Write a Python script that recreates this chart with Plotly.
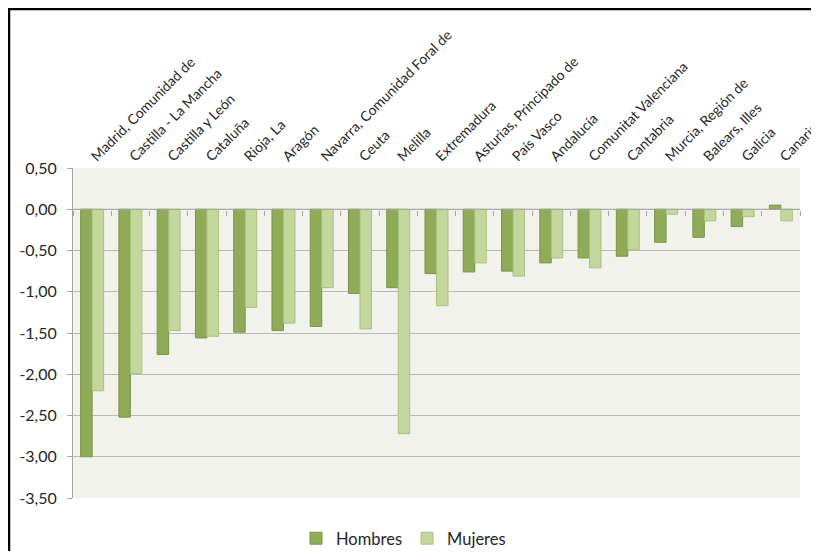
import plotly.graph_objects as go

regiones = ['Madrid, Comunidad de', 'Castilla - La Mancha', 'Castilla y León', 'Cataluña',
            'Rioja, La', 'Aragón', 'Navarra, Comunidad Foral de', 'Ceuta', 'Melilla',
            'Extremadura', 'Asturias, Principado de', 'País Vasco', 'Andalucía',
            'Comunitat Valenciana', 'Cantabria', 'Murcia, Región de', 'Balears, Illes',
            'Galicia', 'Canarias']
hombres = [-3.00, -2.52, -1.76, -1.56, -1.49, -1.47, -1.42, -1.02, -0.95,
           -0.78, -0.76, -0.75, -0.65, -0.59, -0.57, -0.40, -0.34, -0.21, 0.05]
mujeres = [-2.20, -1.99, -1.47, -1.54, -1.19, -1.38, -0.95, -1.45, -2.72,
           -1.17, -0.65, -0.81, -0.59, -0.71, -0.49, -0.06, -0.14, -0.09, -0.14]
y_ticks = [0.5, 0.0, -0.5, -1.0, -1.5, -2.0, -2.5, -3.0, -3.5]
y_labels = [f'{v:.2f}'.replace('.', ',') for v in y_ticks]

# page is 819x559 but the body has an 8px margin on every side
OFF = 8
W, H = 819 - 2 * OFF, 559 - 2 * OFF
# plot area in page pixels
L, R, T, B = 73, 800, 168, 498

def px_x(p):
  return (p - L) / (R - L)

def px_y(p):
  return (B - p) / (B - T)

fig = go.Figure()
fig.add_trace(go.Bar(x=regiones, y=hombres, name='Hombres',
                     marker=dict(color='#8fab58', line=dict(color='#7a9646', width=1))))
fig.add_trace(go.Bar(x=regiones, y=mujeres, name='Mujeres',
                     marker=dict(color='#c3d69b', line=dict(color='#a9c27e', width=1))))

# axis line with ticks at the zero level
fig.add_trace(go.Scatter(x=[-0.5, 18.5], y=[0, 0], xaxis='x2', mode='lines',
                         line=dict(color='#a6a6a6', width=1.2), showlegend=False, hoverinfo='skip'))

fig.update_layout(
  width=W, height=H,
  margin=dict(l=L - OFF, r=W - (R - OFF), t=T - OFF, b=H - (B - OFF), autoexpand=False),
  paper_bgcolor='white', plot_bgcolor='#f0f2eb',
  font=dict(family='Lato, Open Sans, sans-serif', color='#262626', size=13),
  barmode='group', bargap=0.4, bargroupgap=0.0,
  legend=dict(orientation='h', x=px_x(296), y=px_y(521), xanchor='left', yanchor='top',
              font=dict(size=16.5), itemwidth=30, traceorder='normal'),
)
fig.update_xaxes(side='top', tickangle=-45, showgrid=False, ticks='', showline=False,
                 tickfont=dict(size=14))
fig.update_layout(xaxis2=dict(overlaying='x', anchor='free', position=px_y(210), side='bottom',
                              range=[-0.5, 18.5], showticklabels=False, showgrid=False,
                              tickvals=[i - 0.5 for i in range(20)], ticks='outside', ticklen=5,
                              tickcolor='#a6a6a6', showline=False, zeroline=False))
fig.update_yaxes(range=[-3.5, 0.5], tickvals=y_ticks, ticktext=y_labels, showgrid=True,
                 gridcolor='#b8b8b8', gridwidth=1.2, zeroline=False, showline=True,
                 linecolor='#a6a6a6', ticks='outside', ticklen=5, tickcolor='#a6a6a6',
                 tickfont=dict(size=16), ticklabelstandoff=7)

# outer frame of the original image (drawn at the figure's top-left edge)
fig.add_shape(type='line', xref='paper', yref='paper', x0=px_x(OFF + 1), x1=px_x(OFF + 1),
              y0=px_y(OFF + 1), y1=px_y(OFF + H), line=dict(color='black', width=2.5))
fig.add_shape(type='line', xref='paper', yref='paper', x0=px_x(OFF), x1=px_x(OFF + W),
              y0=px_y(OFF + 1), y1=px_y(OFF + 1), line=dict(color='black', width=2.5))

fig.write_html("out.html", config={'displayModeBar': False})
